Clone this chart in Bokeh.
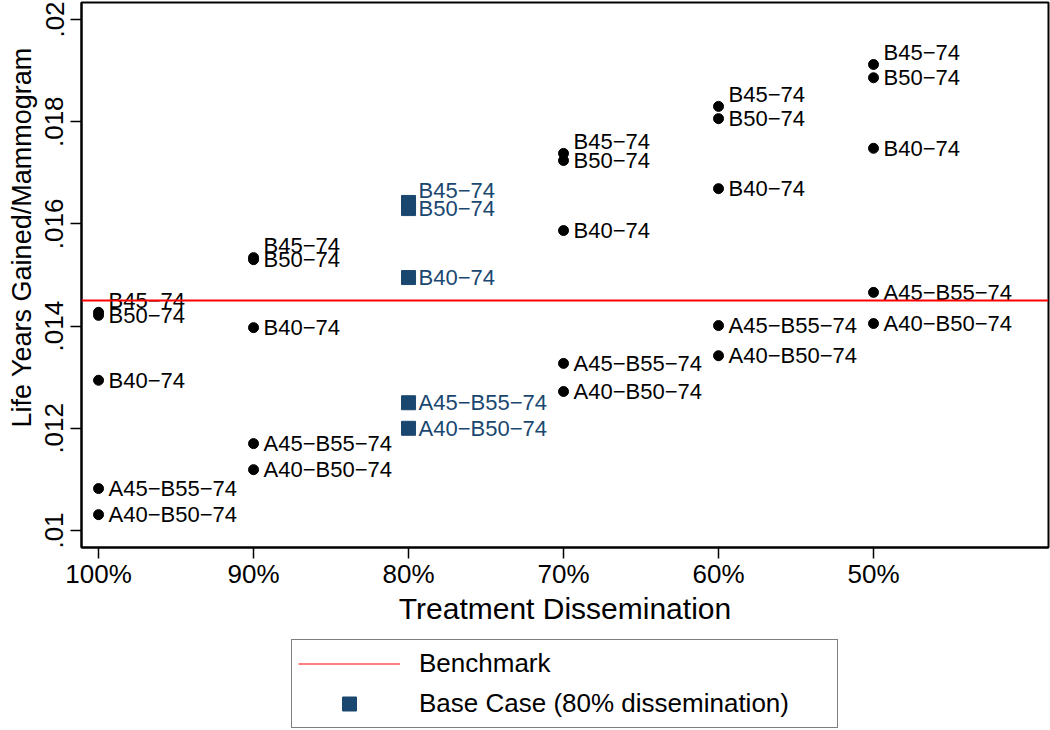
import pandas as pd
from bokeh.plotting import figure
from bokeh.layouts import column
from bokeh.models import (Range1d, FixedTicker, Span, Legend, LegendItem,
                          ColumnDataSource, Title)
from bokeh.core.properties import value
from bokeh.embed import file_html
from bokeh.resources import INLINE

# ---- data ----
dissemination = [100, 90, 80, 70, 60, 50]
x_tick_labels = ["100%", "90%", "80%", "70%", "60%", "50%"]
y_ticks = [0.010, 0.012, 0.014, 0.016, 0.018, 0.020]
y_tick_labels = [".01", ".012", ".014", ".016", ".018", ".02"]
strategies = ["B45−74", "B50−74", "B40−74", "A45−B55−74", "A40−B50−74"]
b45_74 = [0.01427, 0.01534, 0.01642, 0.01738, 0.01830, 0.01912]
b50_74 = [0.01421, 0.01530, 0.01630, 0.01724, 0.01806, 0.01886]
b40_74 = [0.01294, 0.01397, 0.01495, 0.01587, 0.01669, 0.01748]
a45_b55_74 = [0.01082, 0.01170, 0.01250, 0.01327, 0.01401, 0.01466]
a40_b50_74 = [0.01031, 0.01119, 0.01200, 0.01272, 0.01342, 0.01405]
benchmark = 0.0145
base_case = 80

NAVY = "#1a476f"
FONT = "Liberation Sans"

rows = []
for name, vals in zip(strategies, [b45_74, b50_74, b40_74, a45_b55_74, a40_b50_74]):
    for d, v in zip(dissemination, vals):
        rows.append(dict(x=d, y=v, label=name, yoff=(-12 if name == "B45−74" else 0)))
df = pd.DataFrame(rows)
base_df = df[df.x == base_case]
other_df = df[df.x != base_case]
base_src = ColumnDataSource(base_df)
other_src = ColumnDataSource(other_df)

# ---- main plot ----
p = figure(width=1050, height=636, output_backend="svg", toolbar_location=None,
           x_range=Range1d(101.1, 38.71), y_range=Range1d(0.009667, 0.020333),
           min_border_left=81, min_border_right=2, min_border_top=2, min_border_bottom=89)
p.background_fill_color = "white"
p.border_fill_color = "white"
p.outline_line_color = "black"
p.outline_line_width = 2
p.grid.visible = False

p.add_layout(Span(location=benchmark, dimension="width", line_color="red", line_width=2))

p.scatter("x", "y", source=other_src, marker="circle", size=10,
          fill_color="black", line_color="black")
p.scatter("x", "y", source=base_src, marker="square", size=14,
          fill_color=NAVY, line_color=NAVY)

p.text("x", "y", text="label", source=other_src, x_offset=10, y_offset="yoff",
       text_baseline="middle", text_align="left", text_font=value(FONT),
       text_font_size="22px", text_color="black")
p.text("x", "y", text="label", source=base_src, x_offset=10, y_offset="yoff",
       text_baseline="middle", text_align="left", text_font=value(FONT),
       text_font_size="22px", text_color=NAVY)

xa = p.xaxis[0]
xa.ticker = FixedTicker(ticks=dissemination)
xa.major_label_overrides = {d: t for d, t in zip(dissemination, x_tick_labels)}
ya = p.yaxis[0]
ya.ticker = FixedTicker(ticks=y_ticks)
ya.major_label_overrides = {v: t for v, t in zip(y_ticks, y_tick_labels)}
ya.major_label_orientation = "vertical"
for ax in (xa, ya):
    ax.axis_line_color = "black"
    ax.axis_line_width = 2
    ax.major_tick_in = 0
    ax.major_tick_out = 11
    ax.major_tick_line_width = 1.5
    ax.minor_tick_line_color = None
    ax.major_label_text_font = FONT
    ax.major_label_text_font_size = "26px"
    ax.major_label_text_color = "black"
    ax.axis_label_text_font = FONT
    ax.axis_label_text_font_style = "normal"
    ax.axis_label_text_color = "black"
xa.axis_label = "Treatment Dissemination"
xa.axis_label_text_font_size = "30px"
xa.major_label_standoff = 0
xa.axis_label_standoff = 0
ya.major_label_standoff = 7

ytitle = Title(text="Life Years Gained/Mammogram", align="left", offset=120, standoff=10,
               vertical_align="middle",
               text_font=FONT, text_font_size="27px", text_font_style="normal",
               text_color="black")
p.add_layout(ytitle, "left")

# ---- legend strip ----
leg = figure(width=1050, height=92, output_backend="svg", toolbar_location=None,
             x_range=Range1d(101.1, 38.71), y_range=Range1d(0.009667, 0.020333),
             x_axis_location=None, y_axis_location=None,
             min_border_left=81, min_border_right=2, min_border_top=0, min_border_bottom=0)
leg.outline_line_color = None
leg.grid.visible = False
leg.background_fill_color = "white"
leg.border_fill_color = "white"
bench_r = leg.line(x=[dissemination[0], dissemination[-1]], y=[benchmark, benchmark],
                   line_color="red", line_width=1.2, visible=False)
base_r = leg.scatter("x", "y", source=ColumnDataSource(base_df), marker="square",
                     size=14, fill_color=NAVY, line_color=NAVY, visible=False)
legend = Legend(items=[LegendItem(label="Benchmark", renderers=[bench_r]),
                       LegendItem(label="Base Case (80% dissemination)", renderers=[base_r])],
                location=(210, 0), orientation="vertical",
                border_line_color="black", border_line_width=1.5,
                background_fill_color="white", background_fill_alpha=1,
                label_text_font=FONT, label_text_font_size="26px", label_text_color="black",
                glyph_width=102, glyph_height=35, label_height=35, spacing=5, padding=6,
                label_standoff=19, label_width=412, margin=0, click_policy="none")
leg.add_layout(legend, "center")

layout = column(p, leg, spacing=0)
open("out.html", "w").write(file_html(layout, INLINE))
